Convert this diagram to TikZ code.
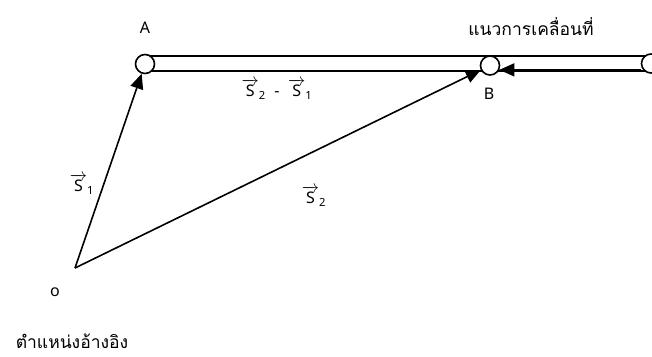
\documentclass[tikz,border=0pt]{standalone}
\usepackage{amsmath}
\usepackage{fontspec}
\setmainfont{Noto Sans}
\newfontfamily\thaifont[Script=Thai]{Loma}
\usetikzlibrary{arrows.meta}
\newcommand\vS[1]{$\overrightarrow{\text{S}}_{\text{#1}}$}
\begin{document}
\begin{tikzpicture}[x=1pt,y=-1pt,
  rail/.style={line width=1.6pt},
  pt/.style={circle,draw,line width=1.6pt,fill=white,minimum size=19pt,inner sep=0},
  vec/.style={line width=1.6pt,-{Triangle[length=15pt,width=13pt]}},
  lbl/.style={font=\fontsize{16}{19}\selectfont,inner sep=0},
  thai/.style={font=\thaifont\fontsize{17.5}{20}\selectfont,inner sep=0}]
\useasboundingbox (0,0) rectangle (652,356);
\draw[rail] (145,56) -- (660,56);
\draw[rail] (145,71) -- (660,71);
\node[pt] (A) at (145,64) {};
\node[pt] (B) at (490,65.5) {};
\node[pt] (R) at (651,63.5) {};
\coordinate (O) at (75,268);
\draw[vec] (O) -- (A);
\draw[vec] (O) -- (B);
\draw[vec] (R.west |- B.-25) -- (B.-25);
\node[lbl] (la) at (145,28) {A};
\node[lbl] (lb) at (489,94) {B};
\node[lbl] (lo) at (55,292) {o};
\node[lbl] (s1) at (82,184) {\vS{1}};
\node[lbl] (s2) at (314,196) {\vS{2}};
\node[lbl] (s21) at (277,89) {\vS{2}\; - \;\vS{1}};
\node[thai] (mv) at (531,27) {แนวการเคลื่อนที่};
\node[thai] (ref) at (72,341) {ตำแหน่งอ้างอิง};
\end{tikzpicture}
\end{document}
